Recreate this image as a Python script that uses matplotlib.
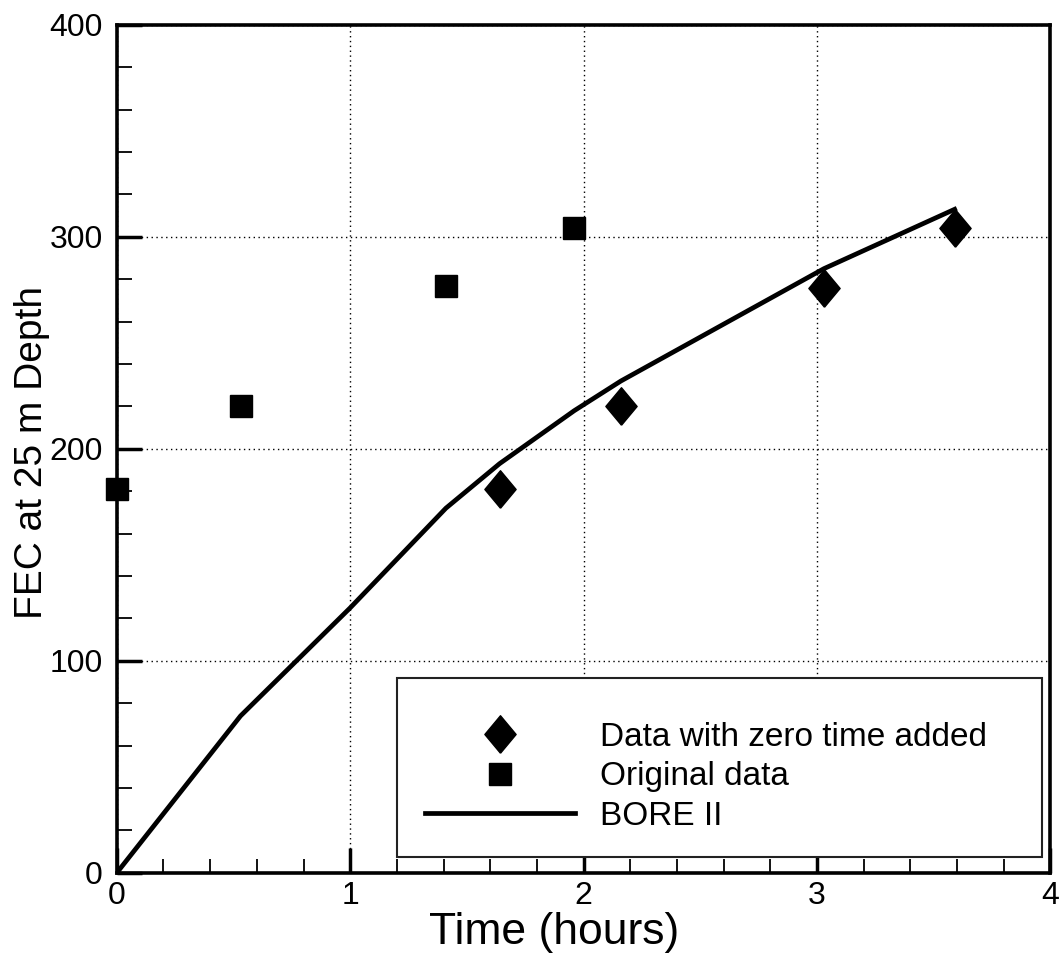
import matplotlib
matplotlib.use("Agg")
from matplotlib import pyplot as plt
from matplotlib.patches import Rectangle
from matplotlib.ticker import MultipleLocator

plt.rcParams['font.family'] = ['Liberation Sans', 'DejaVu Sans']

# Original data (squares)
orig_t = [0.0, 0.53, 1.41, 1.96]
orig_fec = [181, 220, 277, 304]

# Data with zero time added (diamonds)
shift_t = [1.64, 2.16, 3.03, 3.59]
shift_fec = [181, 220, 276, 304]

# BORE II model curve
bore_t = [0.0, 0.53, 1.0, 1.41, 1.64, 1.96, 2.16, 3.03, 3.59]
bore_fec = [0, 74, 125, 172, 193, 218, 232, 285, 313]

fig = plt.figure(figsize=(10.62, 9.56), dpi=100)
ax = fig.add_axes([0.110, 0.087, 0.879, 0.887])

# grid first so it sits under the data
ax.grid(True, which='major', linestyle=(0, (1, 2.5)), color='black', linewidth=1.0)
ax.set_axisbelow(True)

ax.plot(bore_t, bore_fec, '-', color='black', linewidth=3.4, label='BORE II', zorder=3)
diamond = [(0, -1.2), (1, 0), (0, 1.2), (-1, 0), (0, -1.2)]
ax.plot(shift_t, shift_fec, linestyle='none', marker=diamond, markersize=27,
        color='black', label='Data with zero time added', zorder=4, clip_on=False)
ax.plot(orig_t, orig_fec, linestyle='none', marker='s', markersize=15.5,
        color='black', label='Original data', zorder=4, clip_on=False)

ax.set_xlim(0, 4)
ax.set_ylim(0, 400)
ax.xaxis.set_major_locator(MultipleLocator(1))
ax.xaxis.set_minor_locator(MultipleLocator(0.2))
ax.yaxis.set_major_locator(MultipleLocator(100))
ax.yaxis.set_minor_locator(MultipleLocator(20))

ax.tick_params(which='both', direction='in', top=False, right=False, colors='black')
ax.tick_params(which='major', length=18, width=2.5, labelsize=23)
ax.tick_params(axis='y', which='minor', length=11, width=1.3)
ax.tick_params(axis='x', which='minor', length=10, width=1.3)
ax.tick_params(axis='y', which='major', pad=10)
ax.tick_params(axis='x', which='major', pad=6)

for sp in ax.spines.values():
    sp.set_linewidth(2.6)

ax.set_xlabel('Time (hours)', fontsize=32)
ax.xaxis.set_label_coords(0.468, -0.07, transform=ax.transAxes)
ax.xaxis.label.set_va('center')
ax.set_ylabel('FEC at 25 m Depth', fontsize=28)
ax.yaxis.set_label_coords(-0.072, 0.496, transform=ax.transAxes)

# legend box
ax.add_patch(Rectangle((0.300, 0.019), 0.691, 0.211, transform=ax.transAxes,
                       fill=True, facecolor='white', edgecolor='#222222',
                       linewidth=1.5, zorder=5))
handles, labels = ax.get_legend_handles_labels()
order = [1, 2, 0]
leg = ax.legend([handles[i] for i in order], [labels[i] for i in order],
                loc='upper left', bbox_to_anchor=(0.330, 0.178),
                frameon=False, fontsize=24, handlelength=4.5,
                handletextpad=0.75, labelspacing=0.25, borderpad=0,
                borderaxespad=0, markerscale=1.0)
leg.set_zorder(6)

fig.savefig('out.png', dpi=100)
